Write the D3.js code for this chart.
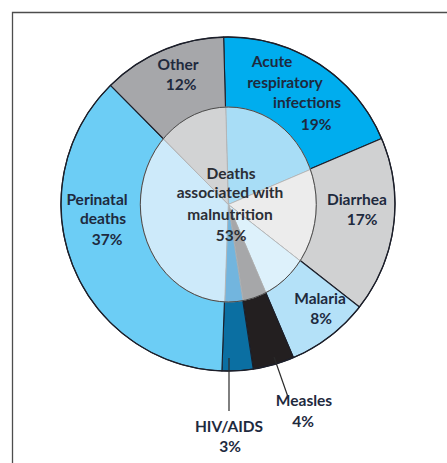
<!DOCTYPE html>
<html>
<head>
<meta charset="utf-8">
<script src="https://cdn.jsdelivr.net/npm/d3@7"></script>
<style>
  body { margin: 0; background: #fff; }
  svg { display: block; }
</style>
</head>
<body>
<svg id="chart" width="447" height="463"></svg>
<script>
// Causes of child deaths, clockwise from 12 o'clock
const causes = ["Acute respiratory infections", "Diarrhea", "Malaria", "Measles", "HIV/AIDS", "Perinatal deaths", "Other"];
const shares = [19, 17, 8, 4, 3, 37, 12];
// Name part of each label, split into lines (percent is appended from shares)
const nameLines = [
  ["Acute", "respiratory", "infections"],
  ["Diarrhea"],
  ["Malaria"],
  ["Measles"],
  ["HIV/AIDS"],
  ["Perinatal", "deaths"],
  ["Other"]
];
const centerLines = ["Deaths", "associated with", "malnutrition"];
const malnutritionShare = 53;

// Colours: outer ring (all deaths) and inner disc (malnutrition-associated share)
const outerColors = ["#00adee", "#d0d1d2", "#b4e1f8", "#231f20", "#0b6fa2", "#6ccdf5", "#a6a7aa"];
const innerColors = ["#a8ddf6", "#ececec", "#ddf1fb", "#a6a7a9", "#72b5de", "#cdeafa", "#d2d3d4"];

// Layout: per-line label anchors [x, baseline]
const labelLayout = [
  [[272, 67], [285, 88], [307, 108], [316, 130]],
  [[357, 205], [362, 225]],
  [[320, 304], [321, 324]],
  [[304, 406], [303, 427]],
  [[229, 432], [230, 452]],
  [[97, 205], [103, 224], [107, 245]],
  [[178, 70], [181, 90]]
];
const centerLayout = [[231, 179], [230, 198], [230, 220], [231, 241]];
const leaders = { 4: [[229, 358], [229, 411]], 3: [[274, 357], [288, 397]] };

const svg = d3.select("#chart");

// Frame (left and top edges visible)
svg.append("path")
  .attr("d", "M12.5,463 V12.5 H447")
  .attr("fill", "none")
  .attr("stroke", "#4d4d4d")
  .attr("stroke-width", 1.3);

const cx = 228, cy = 204, R = 167;
const icx = 228.3, icy = 204.5, rx = 88, ry = 97.5;
const start = -1.5 * Math.PI / 180;

const pie = d3.pie().sort(null).value(d => d)
  .startAngle(start).endAngle(start + 2 * Math.PI);
const arcs = pie(shares);

// Outer ring
const g = svg.append("g").attr("transform", `translate(${cx},${cy})`);
const outerArc = d3.arc().innerRadius(0).outerRadius(R);
g.selectAll("path.outer").data(arcs).join("path")
  .attr("class", "outer")
  .attr("d", outerArc)
  .attr("fill", (d, i) => outerColors[i])
  .attr("stroke", "#1c1f2a")
  .attr("stroke-width", 1.1)
  .attr("stroke-linejoin", "round");
g.append("circle").attr("r", R)
  .attr("fill", "none").attr("stroke", "#1c1f2a").attr("stroke-width", 1.3);

// Inner disc: slightly taller than wide; map angles so wedge edges stay on the same rays
const toEll = a => {
  let phi = Math.atan2(ry * Math.sin(a), rx * Math.cos(a));
  let diff = phi - a;
  diff = Math.atan2(Math.sin(diff), Math.cos(diff));
  return a + diff;
};
const innerArc = d3.arc().innerRadius(0).outerRadius(rx)
  .startAngle(d => toEll(d.startAngle))
  .endAngle(d => toEll(d.endAngle));
const gi = svg.append("g").attr("transform", `translate(${icx},${icy}) scale(1,${ry / rx})`);
gi.selectAll("path.inner").data(arcs).join("path")
  .attr("class", "inner")
  .attr("d", innerArc)
  .attr("fill", (d, i) => innerColors[i])
  .attr("stroke", "#b4b4b4")
  .attr("stroke-width", 0.8)
  .attr("vector-effect", "non-scaling-stroke");
gi.append("circle").attr("r", rx)
  .attr("fill", "none").attr("stroke", "#4a4a4a").attr("stroke-width", 1)
  .attr("vector-effect", "non-scaling-stroke");

// Leader lines for the small slices
Object.entries(leaders).forEach(([k, pts]) => {
  svg.append("line")
    .attr("x1", pts[0][0]).attr("y1", pts[0][1])
    .attr("x2", pts[1][0]).attr("y2", pts[1][1])
    .attr("stroke", "#2a2a2a").attr("stroke-width", 1.2);
});

const font = "Lato, 'Open Sans', 'DejaVu Sans', sans-serif";

// Slice labels
causes.forEach((c, i) => {
  const lines = nameLines[i].concat([shares[i] + "%"]);
  lines.forEach((t, j) => {
    const [x, y] = labelLayout[i][j];
    svg.append("text")
      .attr("x", x).attr("y", y)
      .attr("text-anchor", "middle")
      .attr("font-family", font)
      .attr("font-weight", 700)
      .attr("font-size", 15.5)
      .attr("fill", "#1e2a3e")
      .text(t);
  });
});

// Centre label
centerLines.concat([malnutritionShare + "%"]).forEach((t, j) => {
  const [x, y] = centerLayout[j];
  svg.append("text")
    .attr("x", x).attr("y", y)
    .attr("text-anchor", "middle")
    .attr("font-family", font)
    .attr("font-weight", 700)
    .attr("font-size", 15.5)
    .attr("fill", "#2b2e35")
    .text(t);
});
</script>
</body>
</html>
